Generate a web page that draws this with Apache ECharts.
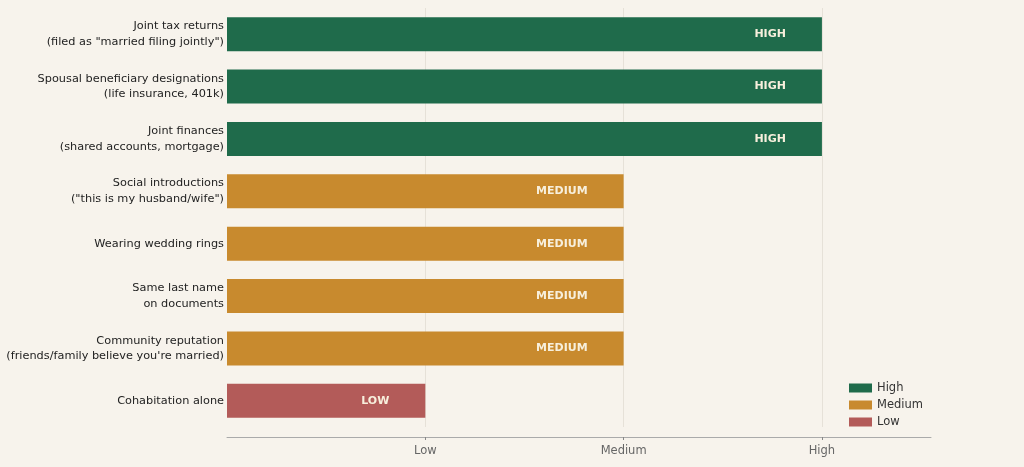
<!DOCTYPE html>
<html><head><meta charset="utf-8">
<script src="https://cdn.jsdelivr.net/npm/echarts@6/dist/echarts.min.js"></script>
<style>html,body{margin:0;padding:0;background:#f7f3ec;}#c{width:1024px;height:467px;}</style>
</head><body><div id="c"></div>
<script>
const categories = [
  'Joint tax returns\n(filed as "married filing jointly")',
  'Spousal beneficiary designations\n(life insurance, 401k)',
  'Joint finances\n(shared accounts, mortgage)',
  'Social introductions\n("this is my husband/wife")',
  'Wearing wedding rings',
  'Same last name\non documents',
  'Community reputation\n(friends/family believe you\'re married)',
  'Cohabitation alone'
];
const levels = ['High','High','High','Medium','Medium','Medium','Medium','Low'];
const levelValue = {Low: 1, Medium: 2, High: 3};
const tickValues = [1, 2, 3];
const tickLabels = {1: 'Low', 2: 'Medium', 3: 'High'};
const levelNames = ['High','Medium','Low'];
const colors = {High: '#1f6b4b', Medium: '#c88a2e', Low: '#b35b59'};

const series = levelNames.map(name => ({
  name: name,
  type: 'bar',
  barWidth: 34,
  barGap: '-100%',
  itemStyle: {color: colors[name]},
  label: {
    show: true, position: 'insideRight', distance: 36,
    formatter: name.toUpperCase(),
    color: '#f7efdc', fontWeight: 'bold', fontSize: 11, fontFamily: 'DejaVu Sans'
  },
  data: levels.map(l => l === name ? levelValue[l] : '-')
}));

const chart = echarts.init(document.getElementById('c'));
chart.setOption({
  backgroundColor: '#f7f3ec',
  animation: false,
  textStyle: {fontFamily: 'DejaVu Sans'},
  grid: {left: 227, right: 93, top: 8, bottom: 40, containLabel: false, outerBoundsMode: 'none'},
  legend: {
    orient: 'vertical', left: 844, top: 377, itemWidth: 23, itemHeight: 9, itemGap: 5,
    icon: 'rect', data: levelNames,
    textStyle: {fontSize: 11.5, color: '#333', fontFamily: 'DejaVu Sans'}
  },
  xAxis: {
    type: 'value', min: 0, max: 3.55, interval: 1, offset: 10,
    axisLine: {show: true, lineStyle: {color: '#aaa'}},
    axisTick: {show: true, length: 3, customValues: tickValues, lineStyle: {color: '#888'}},
    axisLabel: {
      color: '#666', fontSize: 11.5, margin: 8, customValues: tickValues,
      formatter: v => tickLabels[v] || ''
    },
    splitLine: {show: true, showMinLine: true, showMaxLine: true, lineStyle: {color: '#e6e1d8', width: 1}}
  },
  yAxis: {
    type: 'category', inverse: true, data: categories,
    axisLine: {show: false}, axisTick: {show: false},
    axisLabel: {color: '#222', fontSize: 11.3, margin: 3, lineHeight: 15.5, align: 'right', padding: [6, 0, 0, 0]}
  },
  series: series
});
</script></body></html>
